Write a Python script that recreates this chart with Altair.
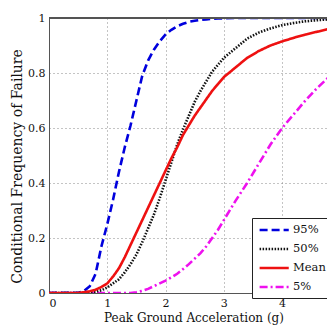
import altair as alt
import pandas as pd

pga = [0, 0.5, 0.6, 0.7, 0.8, 0.9, 1.0, 1.1, 1.2, 1.3, 1.4, 1.5, 1.6, 1.7, 1.8, 1.9,
       2.0, 2.1, 2.2, 2.3, 2.4, 2.5, 2.6, 2.7, 2.8, 2.9, 3.0, 3.2, 3.4, 3.6, 3.8,
       4.0, 4.2, 4.4, 4.6, 4.8, 5.0]

p95 = [0, 0.001, 0.007, 0.025, 0.07, 0.17, 0.25, 0.34, 0.44, 0.53, 0.61, 0.70, 0.79,
       0.845, 0.885, 0.915, 0.94, 0.957, 0.97, 0.979, 0.986, 0.99, 0.993, 0.995,
       0.997, 0.998, 0.999, 1, 1, 1, 1, 1, 1, 1, 1, 1, 1]

p50 = [0, 0, 0, 0.002, 0.005, 0.01, 0.02, 0.035, 0.05, 0.075, 0.105, 0.14, 0.185,
       0.235, 0.285, 0.345, 0.41, 0.475, 0.54, 0.595, 0.645, 0.695, 0.735, 0.77,
       0.805, 0.83, 0.855, 0.89, 0.925, 0.947, 0.962, 0.974, 0.982, 0.988, 0.992,
       0.995, 0.997]

mean = [0, 0, 0.003, 0.006, 0.012, 0.022, 0.035, 0.06, 0.09, 0.13, 0.175, 0.22, 0.265,
        0.31, 0.355, 0.40, 0.445, 0.49, 0.53, 0.575, 0.61, 0.645, 0.675, 0.705,
        0.735, 0.76, 0.785, 0.82, 0.855, 0.88, 0.90, 0.915, 0.928, 0.94, 0.95,
        0.96, 0.967]

p05 = [0, 0, 0, 0, 0, 0, 0, 0, 0, 0, 0, 0.003, 0.008, 0.015, 0.025, 0.035, 0.045,
       0.057, 0.07, 0.087, 0.105, 0.125, 0.145, 0.17, 0.2, 0.23, 0.265, 0.335, 0.4,
       0.47, 0.54, 0.6, 0.65, 0.7, 0.745, 0.785, 0.825]

series_names = ["95%", "50%", "Mean", "5%"]
series_colors = ["#0000dd", "#111111", "#ee1111", "#ee11ee"]
series_dashes = [[8, 4], [1.5, 1.5], [1, 0], [8, 3, 2, 3]]

# draw order: magenta, blue, black, red (red on top)
draw = [("5%", p05, 0), ("95%", p95, 1), ("50%", p50, 2), ("Mean", mean, 3)]
rows = []
for name, vals, k in draw:
    for x, y in zip(pga, vals):
        rows.append({"pga": x, "freq": y, "series": name, "k": k})
df = pd.DataFrame(rows)

font = "DejaVu Serif"

legend_kw = dict(title=None, orient="none", legendX=203, legendY=200,
                 labelFont=font, labelFontSize=11.5, labelColor="#111111",
                 symbolType="M-0.8,0H4.5", symbolSize=121, symbolStrokeWidth=2.6,
                 symbolFillColor="transparent",
                 fillColor="white", strokeColor="#222222", padding=5,
                 rowPadding=6, labelOffset=22)

lines = alt.Chart(df).mark_line(strokeWidth=2.6, clip=True).encode(
    x=alt.X("pga:Q", scale=alt.Scale(domain=[0, 4.77], nice=False),
            axis=alt.Axis(values=[0, 1, 2, 3, 4], format="d",
                          title="Peak Ground Acceleration (g)", titleX=144.5)),
    y=alt.Y("freq:Q", scale=alt.Scale(domain=[0, 1], nice=False),
            axis=alt.Axis(values=[0, 0.2, 0.4, 0.6, 0.8, 1],
                          labelExpr="format(datum.value, '~g')",
                          title="Conditional Frequency of Failure", titleY=148)),
    color=alt.Color("series:N",
                    scale=alt.Scale(domain=series_names, range=series_colors),
                    legend=alt.Legend(**legend_kw)),
    strokeDash=alt.StrokeDash("series:N",
                              scale=alt.Scale(domain=series_names, range=series_dashes),
                              legend=alt.Legend(**legend_kw)),
    detail="k:O",
)

top = alt.Chart(df).mark_rule(color="#555555", strokeWidth=1).encode(y=alt.datum(1))

chart = alt.layer(lines, top).properties(
    width=278, height=275,
    autosize=alt.AutoSizeParams(type="none"),
    padding={"left": 41, "top": 10, "right": 0, "bottom": 34},
    background="white",
).configure_view(stroke=None).configure_axis(
    labelFont=font, titleFont=font, labelFontSize=11,
    titleFontWeight="normal", labelColor="#111111", titleColor="#111111",
    domainColor="#555555", ticks=False,
    gridColor="#888888", gridDash=[1, 3], gridOpacity=1,
).configure_axisX(labelPadding=4, titlePadding=4, labelAngle=0, titleFontSize=12
).configure_axisY(labelPadding=4, titlePadding=3, titleFontSize=14)

chart.save("out.html", embed_options={"renderer": "svg", "actions": False})
